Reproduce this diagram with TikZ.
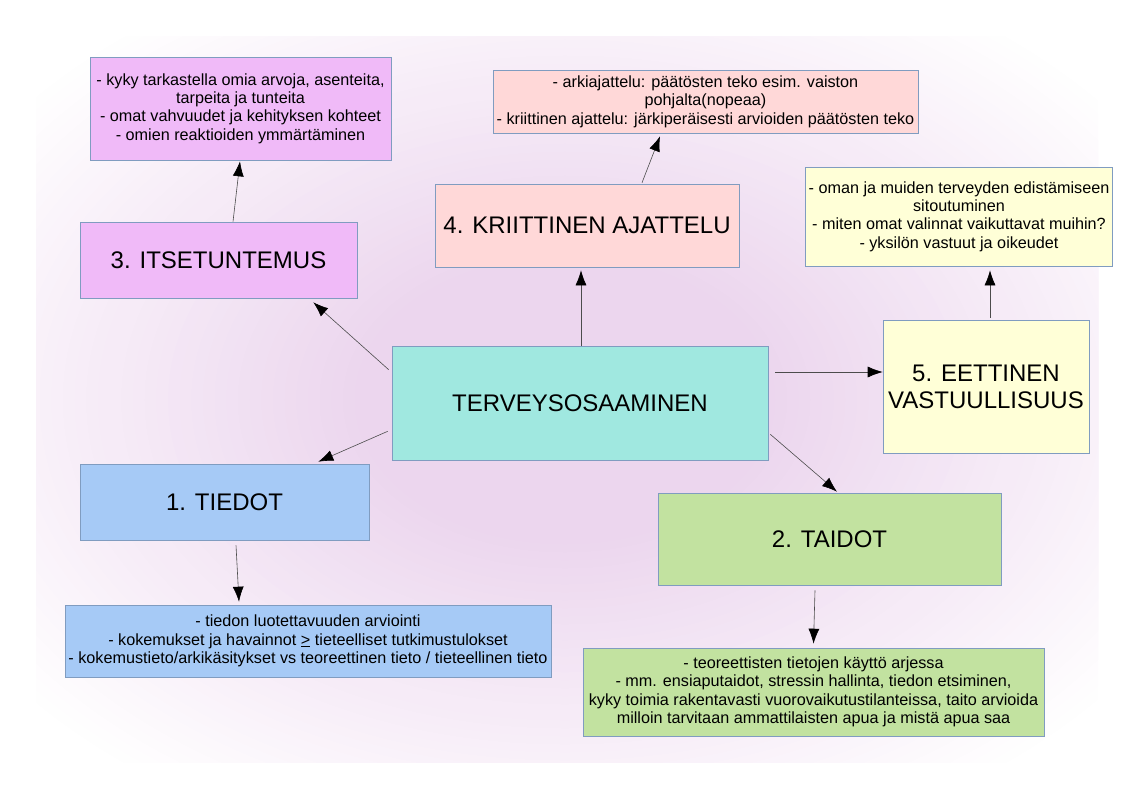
\documentclass[tikz,border=0pt]{standalone}
\usepackage{fontspec}
\setmainfont{Liberation Sans}
\usepackage{tikz}
\usetikzlibrary{arrows.meta}

\definecolor{tuerkis}{RGB}{160,232,224}
\definecolor{lila}{RGB}{240,186,248}
\definecolor{rosa}{RGB}{255,216,216}
\definecolor{gelb}{RGB}{255,255,215}
\definecolor{blau}{RGB}{166,202,246}
\definecolor{gruen}{RGB}{194,226,160}
\definecolor{rahmen}{RGB}{128,156,192}
\definecolor{hgin}{RGB}{236,214,238}

\begin{document}
\begin{tikzpicture}[x=1pt, y=-1pt]
	\tikzstyle{box} = [rectangle, draw=rahmen, line width=0.6pt, align=center, font=\fontsize{24}{27}\selectfont]
	\tikzstyle{tbox} = [rectangle, draw=rahmen, line width=0.6pt, align=center, font=\fontsize{16.2}{18.4}\selectfont]
	\tikzstyle{arrow} = [draw=black!70, line width=0.6pt, -{Latex[length=15pt, width=11pt, color=black]}]

	\useasboundingbox (0,0) rectangle (1131,800);
	% hintergrund
	\begin{scope}
		\clip (36,37) rectangle (1098,762);
		\foreach \i in {0,...,59} {
			\pgfmathsetmacro{\f}{1-\i/60}
			\pgfmathsetmacro{\p}{min(100,100*(1-\f)/0.7)}
			\fill[hgin!\p!white] (565,400) ellipse [x radius=700*\f pt, y radius=480*\f pt];
		}
	\end{scope}

	\node[box, fill=tuerkis, minimum width=376pt, minimum height=114pt] (terveys) at (580,403) {TERVEYSOSAAMINEN};

	% 3. itsetuntemus
	\node[box, fill=lila, minimum width=277pt, minimum height=76pt] (itse) at (218.5,260) {3. ITSETUNTEMUS};
	\draw[arrow] ([xshift=-3pt, yshift=-24pt]terveys.north west) to ([xshift=-44pt, yshift=-4pt]itse.south east);
	\node[tbox, fill=lila, minimum width=301pt, minimum height=103pt] (itsetxt) at (240.5,108.5) {- kyky tarkastella omia arvoja, asenteita,\\
		tarpeita ja tunteita\\
		- omat vahvuudet ja kehityksen kohteet\\
		- omien reaktioiden ymmärtäminen};
	\draw[arrow] ([xshift=14.5pt]itse.north) to ([xshift=-0.5pt, yshift=-1pt]itsetxt.south);

	% 4. kriittinen ajattelu
	\node[box, fill=rosa, minimum width=304pt, minimum height=83pt] (kriit) at (587,225.5) {4. KRIITTINEN AJATTELU};
	\draw[arrow] ([xshift=1pt]terveys.north) to ([xshift=1pt, yshift=-3pt]terveys.north |- kriit.south);
	\node[tbox, fill=rosa, minimum width=425pt, minimum height=63pt] (kriittxt) at (705.5,101.5) {- arkiajattelu: päätösten teko esim. vaiston\\
		pohjalta(nopeaa)\\
		- kriittinen ajattelu: järkiperäisesti arvioiden päätösten teko};
	\draw[arrow] ([xshift=55pt, yshift=1pt]kriit.north) to ([xshift=-45.5pt, yshift=-3pt]kriittxt.south);

	% 5. eettinen vastuullisuus
	\node[box, fill=gelb, minimum width=206pt, minimum height=133pt] (eet) at (986,386.5) {5. EETTINEN\\
		VASTUULLISUUS};
	\draw[arrow] ([xshift=7pt, yshift=31pt]terveys.east) to ([yshift=31pt]terveys.east -| eet.west);
	\node[tbox, fill=gelb, minimum width=306pt, minimum height=99pt] (eettxt) at (959,216.5) {- oman ja muiden terveyden edistämiseen\\
		sitoutuminen\\
		- miten omat valinnat vaikuttavat muihin?\\
		- yksilön vastuut ja oikeudet};
	\draw[arrow] ([xshift=4pt, yshift=2pt]eet.north) to ([xshift=4pt, yshift=-4pt]eet.north |- eettxt.south);

	% 1. tiedot
	\node[box, fill=blau, minimum width=289pt, minimum height=76pt] (tiedot) at (224.5,502) {1. TIEDOT};
	\draw[arrow] ([xshift=-4pt, yshift=29pt]terveys.south west) to ([xshift=-51pt, yshift=2pt]tiedot.north east);
	\node[tbox, fill=blau, minimum width=486pt, minimum height=72pt] (tiedtxt) at (308,641) {- tiedon luotettavuuden arviointi\\
		- kokemukset ja havainnot \underline{>} tieteelliset tutkimustulokset\\
		- kokemustieto/arkikäsitykset vs teoreettinen tieto / tieteellinen tieto};
	\draw[arrow] ([xshift=11.5pt, yshift=-5pt]tiedot.south) to ([xshift=-69pt, yshift=3pt]tiedtxt.north);

	% 2. taidot
	\node[box, fill=gruen, minimum width=343pt, minimum height=92pt] (taidot) at (829.5,539) {2. TAIDOT};
	\draw[arrow] ([xshift=2pt, yshift=26pt]terveys.south east) to ([xshift=7.5pt, yshift=1pt]taidot.north);
	\node[tbox, fill=gruen, minimum width=461pt, minimum height=88pt] (taidtxt) at (813.5,692) {- teoreettisten tietojen käyttö arjessa\\
		- mm. ensiaputaidot, stressin hallinta, tiedon etsiminen,\\
		kyky toimia rakentavasti vuorovaikutustilanteissa, taito arvioida\\
		milloin tarvitaan ammattilaisten apua ja mistä apua saa};
	\draw[arrow] ([xshift=-14.5pt, yshift=-5pt]taidot.south) to ([yshift=4pt]taidtxt.north);

\end{tikzpicture}
\end{document}
